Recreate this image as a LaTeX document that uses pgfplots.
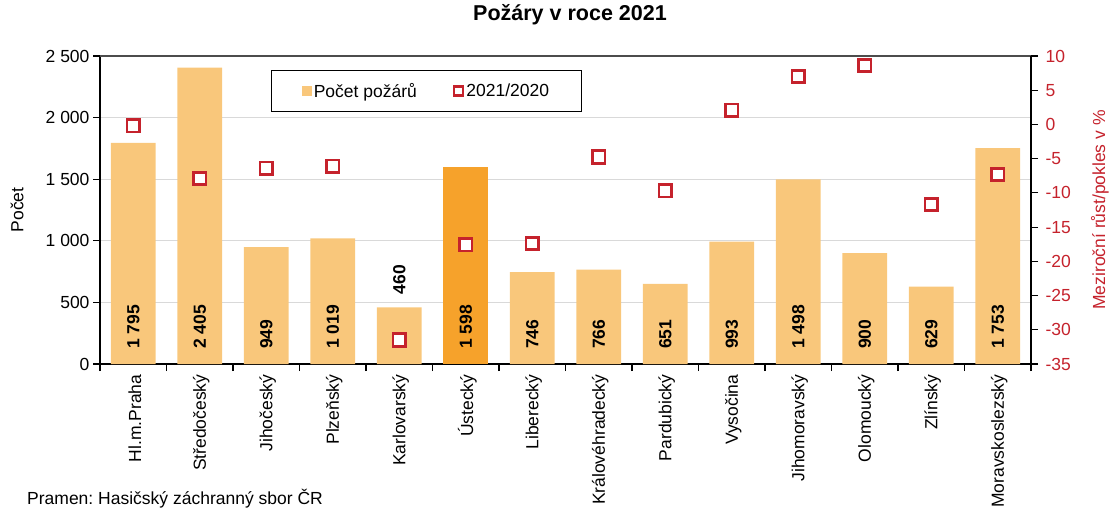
\documentclass[border=0pt]{standalone}
\usepackage{fontspec}
\setmainfont{Liberation Sans}
\usepackage{pgfplots}
\pgfplotsset{compat=1.18}
\definecolor{barc}{HTML}{F9C77B}
\definecolor{barh}{HTML}{F6A22B}
\definecolor{redc}{HTML}{C5222C}
\definecolor{gridc}{HTML}{D9D9D9}
\newcommand\fs{\fontsize{17.5}{21}\selectfont}
\frenchspacing
\begin{document}
\begin{tikzpicture}
\pgfplotsset{
 common/.style={
  scale only axis, width=931pt, height=308pt,
  at={(100pt,145pt)}, anchor=south west,
  xmin=-0.5, xmax=13.5,
  tick align=outside, major tick length=7pt,
  every tick/.style={black, line width=1.2pt},
  axis line style={line width=1.5pt, black},
  tick label style={font=\fs},
  label style={font=\fs},
  /pgf/number format/assume math mode=true,
  /pgf/number format/1000 sep={\ },
 },
}
\begin{axis}[common,
  ymin=0, ymax=2500, ytick={0,500,...,2500},
  axis y line*=left, axis x line*=bottom,
  ymajorgrids, grid style={gridc, line width=1.3pt},
  xtick={-0.5,0.5,...,13.5}, x tick label as interval,
  xticklabels={Hl.m.Praha, Středočeský, Jihočeský, Plzeňský, Karlovarský, Ústecký, Liberecký, Královéhradecký, Pardubický, Vysočina, Jihomoravský, Olomoucký, Zlínský, Moravskoslezský},
  xticklabel style={rotate=90, anchor=east, yshift=-1.5pt},
  ylabel={Počet}, ylabel style={at={(axis description cs:-0.0891,0.5)}, anchor=center},
  title={Požáry v roce 2021},
  title style={font=\fontsize{21.5}{25}\selectfont\bfseries, at={(axis description cs:0.5,1)}, anchor=center, yshift=35pt, xshift=4.5pt},
]
\addplot[ybar, bar width=0.675, fill=barc, draw=none] coordinates {
 (0,1795) (1,2405) (2,949) (3,1019) (4,460) (6,746) (7,766)
 (8,651) (9,993) (10,1498) (11,900) (12,629) (13,1753)};
\addplot[ybar, bar width=0.675, fill=barh, draw=none] coordinates {(5,1598)};
\addplot[draw=none, nodes near coords, point meta=explicit symbolic,
  every node near coord/.append style={rotate=90, anchor=west, inner sep=0pt, font=\fs\bfseries, text=black}]
 coordinates {
 (0,121) [{1 795}] (1,121) [{2 405}] (2,121) [{949}] (3,121) [{1 019}]
 (4,566) [{460}] (5,121) [{1 598}] (6,121) [{746}] (7,121) [{766}]
 (8,121) [{651}] (9,121) [{993}] (10,121) [{1 498}] (11,121) [{900}]
 (12,121) [{629}] (13,121) [{1 753}]};
\draw[gray!60!black, line width=1.3pt] ([xshift=-5pt]rel axis cs:0,1) -- ([xshift=5pt]rel axis cs:1,1);
\end{axis}
\begin{axis}[common,
  ymin=-35, ymax=10, ytick={-35,-30,...,10},
  axis y line*=right, axis x line=none,
  yticklabel style={text=redc, xshift=4pt},
  ylabel={Meziroční růst/pokles v \%},
  ylabel style={text=redc, at={(axis description cs:1.0741,0.5)}, anchor=center},
  legend style={at={(0.184,0.955)}, anchor=north west, legend columns=2, draw=black, line width=1pt, font=\fs, inner ysep=11pt, inner xsep=30pt, nodes={inner xsep=2pt}, /tikz/every even column/.append style={column sep=34pt}},
  legend cell align=left,
]
\addlegendimage{legend image code/.code={\fill[barc, draw=none] (0pt,-5pt) rectangle (10pt,5pt);}}
\addlegendentry{Počet požárů}
\addlegendimage{legend image code/.code={\draw[redc, line width=2.4pt, fill=white] (1pt,-4.5pt) rectangle (10pt,4.5pt);}}
\addlegendentry{2021/2020}
\addplot[only marks, mark=square*, mark size=6.2pt, mark options={draw=redc, fill=white, line width=2.7pt}, forget plot] coordinates {
 (0,-0.2) (1,-7.9) (2,-6.4) (3,-6.1) (4,-31.5) (5,-17.6) (6,-17.4)
 (7,-4.75) (8,-9.7) (9,2.1) (10,7.0) (11,8.6) (12,-11.7) (13,-7.3)};
\end{axis}
\node[anchor=base west, font=\fs, inner sep=0pt] at (27pt,4.5pt) {Pramen: Hasičský záchranný sbor ČR};
\pgfresetboundingbox
\useasboundingbox (0,0) rectangle (1111pt,509pt);
\end{tikzpicture}
\end{document}
